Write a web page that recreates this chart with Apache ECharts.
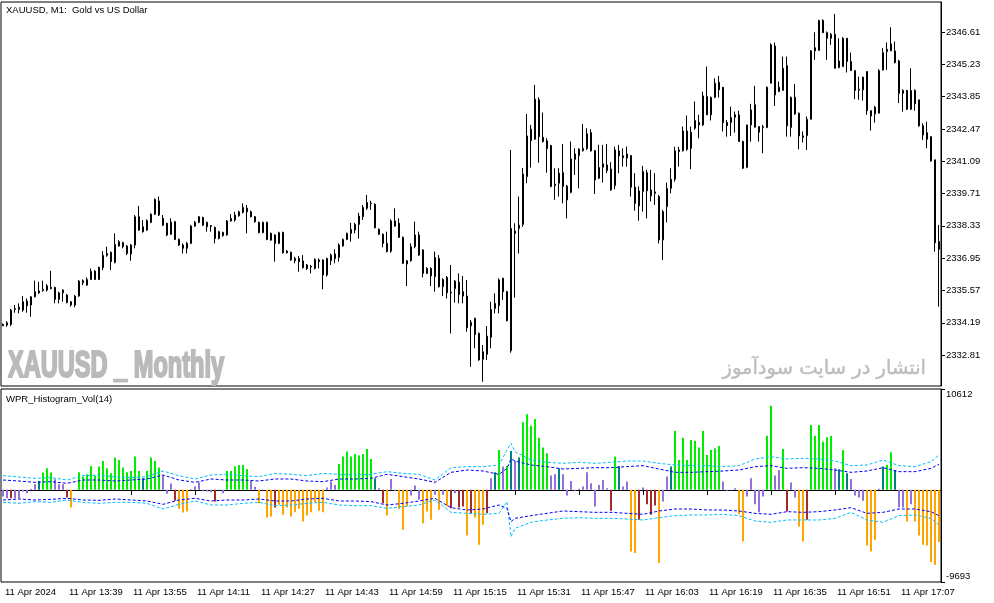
<!DOCTYPE html>
<html><head><meta charset="utf-8">
<script src="https://cdn.jsdelivr.net/npm/echarts@6/dist/echarts.min.js"></script>
<style>html,body{margin:0;padding:0;background:#fff}#c{width:994px;height:603px}</style>
</head><body><div id="c"></div>
<script>
const startMinute = 13 * 60 + 23; // 11 Apr 2024 13:23, M1 bars
const candles = [ // [open, close, low, high]
[2334.12,2334.06,2334.05,2334.16],[2334.09,2334.19,2334.02,2334.26],[2334.12,2334.73,2334.05,2334.78],[2334.76,2334.80,2334.62,2334.95],[2334.85,2334.76,2334.59,2335.02],
[2334.73,2335.09,2334.66,2335.33],[2335.12,2334.92,2334.62,2335.23],[2334.95,2335.30,2334.45,2335.33],[2335.30,2335.52,2335.27,2335.99],[2335.55,2335.47,2335.42,2335.94],
[2335.56,2335.62,2335.52,2335.99],[2335.59,2335.77,2335.52,2335.84],[2335.70,2335.65,2335.62,2336.41],[2335.70,2335.19,2335.02,2335.73],[2335.19,2335.47,2335.02,2335.52],
[2335.47,2335.59,2335.09,2335.62],[2335.37,2335.05,2335.02,2335.42],[2335.09,2334.95,2334.88,2335.12],[2334.95,2335.33,2334.85,2335.37],[2335.33,2335.97,2335.30,2336.02],
[2335.90,2335.99,2335.80,2336.04],[2335.80,2336.04,2335.77,2336.13],[2336.04,2336.39,2336.02,2336.51],[2336.40,2336.04,2336.02,2336.44],[2336.56,2336.04,2336.02,2336.58],
[2336.54,2337.07,2336.44,2337.25],[2337.07,2337.15,2337.01,2337.44],[2337.20,2336.80,2336.44,2337.23],[2336.76,2337.54,2336.73,2338.01],[2337.65,2337.47,2337.44,2337.72],
[2337.61,2337.44,2337.37,2337.65],[2337.15,2337.47,2337.08,2337.51],[2337.51,2337.13,2336.84,2337.55],[2337.51,2338.72,2337.37,2338.79],[2338.72,2338.15,2338.12,2339.18],
[2338.29,2338.08,2338.04,2338.58],[2338.15,2338.55,2338.12,2338.61],[2338.48,2338.83,2338.44,2338.86],[2338.83,2339.46,2338.79,2339.50],[2339.39,2338.79,2338.75,2339.58],
[2338.65,2338.36,2338.32,2338.79],[2338.44,2337.94,2337.89,2338.46],[2337.97,2338.49,2337.94,2338.65],[2338.51,2337.75,2337.72,2338.54],[2337.75,2337.51,2337.47,2337.79],
[2337.51,2337.37,2337.15,2337.58],[2337.37,2337.58,2337.15,2337.65],[2337.58,2338.32,2337.55,2338.36],[2338.32,2338.48,2338.29,2338.54],[2338.48,2338.72,2338.44,2338.75],
[2338.69,2338.36,2338.32,2338.72],[2338.48,2338.29,2338.08,2338.51],[2338.34,2338.31,2338.08,2338.36],[2338.27,2337.79,2337.58,2338.29],[2337.79,2338.08,2337.75,2338.12],
[2337.91,2338.05,2337.87,2338.08],[2337.94,2338.54,2337.91,2338.58],[2338.54,2338.65,2338.51,2338.83],[2338.58,2338.79,2338.51,2338.93],[2338.76,2338.93,2338.72,2338.98],
[2338.91,2339.12,2338.86,2339.29],[2339.08,2338.93,2338.01,2339.22],[2338.93,2338.72,2338.69,2338.98],[2338.72,2338.51,2338.46,2338.75],[2338.48,2338.04,2338.01,2338.51],
[2338.04,2338.48,2338.01,2338.51],[2338.48,2337.75,2337.72,2338.51],[2338.01,2337.72,2337.70,2338.04],[2337.94,2337.58,2336.80,2337.97],[2337.58,2338.04,2337.55,2338.08],
[2338.05,2337.18,2337.15,2338.08],[2337.25,2337.18,2337.15,2337.30],[2337.20,2336.87,2336.84,2337.23],[2336.94,2336.84,2336.73,2337.01],[2336.94,2336.80,2336.37,2337.04],
[2336.83,2336.54,2336.51,2337.08],[2336.66,2336.51,2336.44,2336.70],[2336.60,2336.57,2336.30,2336.66],[2336.51,2336.90,2336.47,2336.94],[2336.87,2336.80,2336.51,2336.94],
[2336.87,2336.23,2335.62,2336.90],[2336.23,2336.94,2336.16,2336.97],[2336.84,2337.08,2336.66,2337.15],[2337.13,2336.93,2336.73,2337.33],[2336.98,2337.51,2336.80,2337.58],
[2337.47,2337.75,2337.44,2337.79],[2337.75,2338.01,2337.72,2338.04],[2338.01,2338.18,2337.65,2338.46],[2338.15,2338.39,2338.01,2338.46],[2338.39,2338.75,2337.79,2338.89],
[2338.72,2339.12,2338.58,2339.22],[2339.08,2339.33,2339.01,2339.65],[2339.30,2339.28,2339.01,2339.40],[2339.25,2338.25,2338.22,2339.29],[2338.18,2337.97,2337.94,2338.22],
[2337.97,2337.58,2337.41,2338.01],[2337.58,2337.23,2337.20,2338.08],[2337.25,2338.54,2337.18,2338.61],[2338.54,2338.32,2338.29,2339.08],[2338.44,2337.84,2337.81,2338.65],
[2337.84,2336.73,2336.70,2337.87],[2336.70,2336.84,2335.76,2336.87],[2336.84,2337.44,2336.80,2337.58],[2337.44,2337.94,2337.37,2338.51],[2337.94,2337.08,2337.05,2338.08],
[2337.30,2336.30,2336.13,2337.33],[2336.30,2336.51,2336.27,2336.56],[2336.51,2336.19,2335.76,2336.56],[2336.16,2336.98,2335.52,2337.23],[2336.94,2335.73,2335.70,2337.08],
[2335.73,2336.04,2335.33,2336.09],[2336.13,2335.47,2335.23,2336.19],[2335.49,2335.46,2333.74,2336.66],[2335.65,2335.97,2335.05,2336.02],[2335.92,2335.40,2335.02,2336.30],
[2335.52,2335.33,2335.02,2336.19],[2335.33,2333.98,2333.81,2336.02],[2334.06,2334.21,2332.31,2334.31],[2334.38,2333.69,2333.10,2334.41],[2333.74,2332.60,2332.57,2333.77],
[2332.63,2332.95,2331.67,2333.24],[2332.84,2333.62,2332.60,2334.05],[2333.57,2334.76,2333.10,2335.09],[2334.80,2335.02,2334.59,2335.45],[2334.92,2336.02,2334.59,2336.09],
[2336.09,2335.52,2335.16,2336.11],[2335.52,2334.28,2334.25,2335.55],[2333.00,2338.22,2332.91,2341.57],[2338.11,2338.01,2335.26,2338.44],[2338.22,2338.36,2337.15,2339.58],
[2338.39,2340.54,2338.29,2340.80],[2340.43,2342.17,2340.15,2343.11],[2342.46,2341.97,2340.82,2342.64],[2342.03,2343.74,2342.00,2344.35],[2343.71,2342.14,2341.03,2343.82],
[2342.11,2341.93,2341.89,2343.17],[2341.96,2341.63,2340.60,2342.07],[2341.76,2340.01,2339.98,2341.79],[2340.11,2340.05,2339.44,2340.79],[2340.15,2340.58,2339.58,2340.79],
[2340.60,2340.01,2339.29,2341.83],[2340.03,2339.44,2338.65,2340.08],[2339.76,2341.19,2339.72,2341.93],[2341.40,2341.17,2340.50,2341.64],[2341.33,2341.61,2339.93,2341.64],
[2341.54,2341.64,2341.50,2342.68],[2341.63,2342.26,2341.57,2342.50],[2342.31,2341.53,2341.50,2342.46],[2341.54,2340.29,2339.69,2341.57],[2340.36,2340.82,2340.33,2341.79],
[2340.83,2340.98,2340.18,2341.79],[2340.93,2340.69,2340.58,2341.83],[2340.76,2339.86,2339.83,2341.05],[2340.05,2341.57,2339.89,2341.71],[2341.53,2341.32,2340.58,2341.79],
[2341.32,2341.24,2340.86,2341.64],[2341.22,2341.40,2340.86,2341.71],[2341.33,2339.98,2339.58,2341.36],[2339.98,2339.29,2338.98,2340.58],[2339.18,2339.82,2338.55,2340.01],
[2339.79,2340.65,2338.94,2340.89],[2340.60,2339.83,2338.65,2340.72],[2339.86,2339.61,2339.37,2340.72],[2339.78,2339.72,2339.22,2340.58],[2339.58,2337.73,2337.58,2339.65],
[2337.73,2338.94,2336.87,2339.01],[2339.15,2339.93,2338.48,2340.18],[2339.93,2340.32,2339.72,2340.79],[2340.32,2341.53,2340.22,2341.71],[2341.50,2341.57,2340.86,2341.71],
[2341.54,2342.38,2341.50,2342.57],[2342.38,2341.60,2341.54,2343.04],[2341.64,2342.33,2340.75,2342.57],[2342.50,2342.83,2342.43,2343.64],[2342.75,2342.64,2342.07,2343.07],
[2342.64,2343.88,2342.60,2344.06],[2343.85,2343.07,2343.07,2345.13],[2343.07,2343.82,2342.83,2343.85],[2343.82,2344.42,2343.78,2344.63],[2344.46,2344.14,2343.81,2344.73],
[2344.25,2342.74,2342.36,2344.25],[2342.74,2342.61,2342.14,2342.85],[2342.74,2342.95,2342.17,2343.42],[2343.07,2342.97,2342.31,2343.21],[2343.07,2341.93,2341.93,2343.25],
[2341.93,2340.79,2340.76,2341.97],[2340.83,2342.64,2340.79,2342.64],[2342.64,2343.28,2341.93,2343.54],[2343.50,2342.54,2342.54,2344.31],[2342.57,2342.33,2341.93,2342.57],
[2342.53,2342.57,2341.43,2342.64],[2342.53,2344.25,2342.50,2344.28],[2344.42,2346.06,2344.42,2346.13],[2346.01,2343.92,2343.45,2346.16],[2344.06,2344.25,2344.06,2344.49],
[2344.11,2345.06,2344.11,2345.56],[2345.17,2342.60,2342.14,2345.56],[2342.53,2343.82,2342.14,2343.85],[2343.82,2343.11,2343.07,2344.39],[2343.14,2342.17,2341.60,2343.17],
[2342.17,2342.11,2341.89,2342.36],[2342.18,2342.88,2341.57,2343.00],[2342.88,2345.80,2342.88,2345.84],[2345.80,2345.94,2345.42,2346.60],[2345.82,2347.10,2345.82,2347.13],
[2347.10,2346.58,2346.58,2347.15],[2346.58,2346.34,2345.42,2346.63],[2346.34,2346.51,2346.06,2346.56],[2346.51,2345.06,2345.06,2347.38],[2345.09,2345.37,2345.06,2346.34],
[2345.13,2346.34,2345.13,2346.39],[2346.34,2345.35,2344.88,2346.34],[2345.35,2344.96,2344.96,2345.73],[2344.96,2344.11,2343.74,2344.96],[2344.12,2344.16,2343.71,2344.70],
[2344.14,2344.68,2343.68,2344.70],[2344.92,2343.25,2343.07,2344.92],[2343.25,2343.02,2342.40,2343.25],[2343.11,2343.40,2342.74,2343.45],[2343.14,2344.96,2343.14,2345.02],
[2344.99,2345.73,2344.96,2345.92],[2345.77,2345.87,2344.99,2346.16],[2345.80,2346.10,2345.80,2346.81],[2345.80,2345.30,2345.27,2346.20],[2345.37,2343.99,2343.57,2345.42],
[2344.11,2343.99,2343.21,2344.16],[2344.11,2343.31,2343.28,2344.14],[2343.31,2344.11,2343.28,2345.06],[2344.11,2343.54,2343.25,2344.16],[2343.71,2342.60,2342.57,2343.71],
[2342.61,2342.21,2342.00,2342.71],[2342.31,2342.03,2341.64,2342.78],[2342.14,2341.10,2341.07,2342.14],[2341.15,2337.61,2337.23,2341.15],[2337.66,2337.33,2334.88,2338.37]
];
const wprValues = [
-700,-875,-875,-875,-875,-175,-350,105,595,945,
1820,2275,1820,1120,595,595,-805,-1855,-35,1855,
1400,1645,2520,1505,2450,3045,2275,1750,3395,3150,
2345,1855,1995,3500,1995,1225,1995,3395,3045,2345,
1505,-420,665,-1155,-1995,-2380,-2275,70,350,805,
-105,-175,-245,-1225,-35,-350,1995,1995,2450,2625,
2625,2205,945,315,-1400,-35,-2905,-2800,-1855,-1575,
-2625,-1855,-2800,-2345,-1995,-3325,-2695,-2345,-1295,-2205,
-2345,245,875,525,2730,3500,4025,3500,3780,3605,
3780,4305,3255,1225,175,-1400,-2695,1155,-105,-1995,
-4200,-1750,-595,455,-1050,-3500,-2275,-3150,-525,-2100,
-525,-1750,-1925,-350,-1855,-1750,-4795,-2450,-2905,-5775,
-3675,-2450,1225,1855,4200,2450,2520,4095,3045,3395,
7105,7945,6755,7455,5495,4445,3850,1505,1645,2275,
1645,-595,945,-105,105,350,1855,700,-1750,525,
1050,175,-2205,3500,2520,350,875,-6475,-6650,-3150,
245,-1505,-2625,-1645,-7700,-1225,1400,2450,6195,3150,
5495,3150,5250,5145,4445,6195,3675,4200,4375,4620,
875,-105,-35,175,-2555,-5425,-700,1225,-1505,-2345,
-700,5705,8855,1505,2100,4305,-2275,770,-805,-3850,
-5425,-3150,6825,5705,6825,5075,5530,5670,2275,2170,
4200,1750,1155,-595,-805,-1155,-5845,-6475,-5250,105,
2450,2625,3955,2100,-1855,-1855,-3325,-1505,-3325,-4795,
-5775,-5845,-7595,-7875,-5495
];
// G strong up, T up, P neutral, B down, O strong down
const wprStates =
"PPBPPPPPPT"+"GGGPPPBOPG"+"GGGGGGGGGG"+"GGGGGTGGGG"+"PPPBOOOPPP"+
"PPPBPPGGGG"+"GGPPOPOOBO"+"OOOOOOOOOO"+"OPPPGGGGGG"+"GGGTPBOPPO"+
"OOPPPOOOPO"+"POBPBBOBOO"+"OBPTGPGTPT"+"GGGGGGGPPT"+"PPPPPPPPPP"+
"PPBGTPPOOB"+"PBBBOPPTGG"+"GGGGGGGGGG"+"PPPPOOPPPP"+"PGGPPGBPPO"+
"OBGGGGGGPT"+"GTPPPPOOOP"+"TGGTPPOPOO"+"OOOOO";
const bandIdx = [0,4,8,12,16,20,24,28,32,36,40,44,48,52,56,60,64,68,72,76,80,84,88,92,96,100,104,108,112,116,120,124,126,127,128,132,136,140,144,148,152,156,160,164,168,172,176,180,184,188,192,196,200,204,208,212,216,220,224,228,232,234];
const upperOuter = [1494,1354,1213,1284,1038,1494,1564,1354,1284,1389,1985,1494,1143,1564,1634,1494,1389,1739,1634,1494,1739,1634,1564,1634,1915,1739,1634,1038,2336,2441,2441,2616,4194,4896,4019,3142,2897,2792,2897,2792,2897,3037,3037,2792,2616,2546,2546,2441,2546,3247,3493,3247,3318,3247,3037,2546,2616,3142,2546,2441,2967,3668];
const upperInner = [1038,933,793,863,687,1038,1038,933,1038,1143,1564,1038,793,1143,1038,1038,933,1143,1143,933,863,1143,1143,1213,1634,1389,1143,793,1845,2090,1985,1634,2266,3247,3037,2616,2441,2195,2266,2336,2336,2441,2546,2195,1845,1845,1915,1985,2090,2441,2546,2266,2336,2266,2090,1845,1985,2336,1915,1915,2266,2686];
const lowerInner = [-1066,-961,-1066,-996,-891,-1066,-1101,-961,-1066,-1171,-1522,-1066,-891,-1171,-1066,-1066,-961,-1171,-1171,-961,-891,-1171,-1171,-1241,-1592,-1417,-1171,-891,-1873,-2118,-2013,-1592,-1943,-3346,-2995,-2714,-2469,-2223,-2294,-2364,-2364,-2469,-2574,-2223,-2013,-2013,-2118,-2118,-2223,-2469,-2574,-2294,-2364,-2294,-2118,-1873,-2469,-2364,-2013,-2013,-2294,-2714];
const lowerOuter = [-1312,-1417,-1241,-1312,-1066,-1312,-1417,-1312,-1312,-1417,-2013,-1522,-1171,-1592,-1592,-1417,-1312,-1662,-1592,-1417,-1312,-1592,-1662,-1662,-1943,-1768,-1592,-1066,-2364,-2469,-2574,-2469,-1241,-4924,-4047,-3416,-3170,-2995,-2925,-2995,-2995,-3065,-3170,-2925,-2714,-2644,-2644,-2574,-2714,-3276,-3416,-3170,-3170,-3170,-2995,-2364,-3170,-3416,-2714,-2644,-2995,-3696];
const priceTicks = [2332.81,2334.19,2335.57,2336.95,2338.33,2339.71,2341.09,2342.47,2343.85,2345.23,2346.61];
const wprTicks = [-9693, 10612];
const priceRange = [2331.49, 2347.89];

const times = candles.map((_, i) => {
  const m = startMinute + i;
  return String(Math.floor(m / 60)).padStart(2, '0') + ':' + String(m % 60).padStart(2, '0');
});
const stateColors = { G: '#00ee00', T: '#008080', P: '#9370db', B: '#a52a2a', O: '#ffa500' };
const FONT = '"Liberation Sans", Arial, sans-serif';

const chart = echarts.init(document.getElementById('c'), null, { renderer: 'canvas' });
const lineSeries = (vals, color) => ({
  type: 'line', xAxisIndex: 1, yAxisIndex: 1, symbol: 'none', silent: true,
  data: bandIdx.map((b, k) => [b, vals[k]]),
  lineStyle: { color, width: 1, type: [3, 2] }, z: 3
});

chart.setOption({
  animation: false,
  backgroundColor: '#fff',
  grid: [
    { left: 1, top: 2, width: 940, height: 384, show: true, borderColor: '#000', borderWidth: 1, backgroundColor: 'transparent' },
    { left: 1, top: 389, width: 940, height: 193, show: true, borderColor: '#000', borderWidth: 1, backgroundColor: 'transparent' }
  ],
  xAxis: [
    { type: 'category', gridIndex: 0, data: times, boundaryGap: true,
      axisLine: { show: false }, axisTick: { show: false }, axisLabel: { show: false }, splitLine: { show: false }, axisPointer: { show: false } },
    { type: 'category', gridIndex: 1, data: times, boundaryGap: true,
      axisLine: { show: true, lineStyle: { color: '#000', width: 1 } },
      axisTick: { show: true, interval: 15, alignWithLabel: true, length: 5, lineStyle: { color: '#000' } },
      axisLabel: { interval: 15, align: 'left', margin: 5, color: '#000', fontSize: 9.5, fontFamily: FONT,
        padding: [0, 0, 0, 2],
        formatter: (v, i) => i === 0 ? '11 Apr 2024' : '11 Apr ' + v },
      splitLine: { show: false } }
  ],
  yAxis: [
    { type: 'value', gridIndex: 0, position: 'right', min: priceRange[0], max: priceRange[1], scale: true,
      axisLine: { show: true, lineStyle: { color: '#000' } },
      axisTick: { show: true, length: 4, customValues: priceTicks, lineStyle: { color: '#000' } },
      axisLabel: { customValues: priceTicks, margin: 5, color: '#000', fontSize: 9.5, fontFamily: FONT,
        formatter: v => v.toFixed(2) },
      splitLine: { show: false } },
    { type: 'value', gridIndex: 1, position: 'right', min: wprTicks[0], max: wprTicks[1],
      axisLine: { show: true, lineStyle: { color: '#000' } },
      axisTick: { show: true, length: 4, customValues: wprTicks, lineStyle: { color: '#000' } },
      axisLabel: { customValues: wprTicks, margin: 5, color: '#000', fontSize: 9.5, fontFamily: FONT,
        formatter: v => v > 0 ? '{t|' + v + '}' : '{b|' + v + '}',
        rich: { t: { fontSize: 9.5, fontFamily: FONT, color: '#000', padding: [10, 0, 0, 0] },
                b: { fontSize: 9.5, fontFamily: FONT, color: '#000', padding: [0, 0, 12, 0] } } },
      splitLine: { show: false } }
  ],
  series: [
    { type: 'candlestick', xAxisIndex: 0, yAxisIndex: 0, data: candles, barWidth: 2, z: 3,
      itemStyle: { color: '#fff', color0: '#000', borderColor: '#000', borderColor0: '#000', borderWidth: 1 } },
    { type: 'bar', xAxisIndex: 1, yAxisIndex: 1, barWidth: 2, z: 2,
      data: wprValues.map((v, i) => ({ value: v, itemStyle: { color: stateColors[wprStates[i]] } })) },
    lineSeries(upperOuter, '#00bfff'),
    lineSeries(lowerOuter, '#00bfff'),
    lineSeries(upperInner, '#0000ff'),
    lineSeries(lowerInner, '#0000ff')
  ],
  graphic: [
    { type: 'text', x: 6, y: 10, silent: true,
      style: { text: 'XAUUSD, M1:  Gold vs US Dollar', fontSize: 9.5, fontFamily: FONT, fill: '#000', textVerticalAlign: 'middle', verticalAlign: 'middle' } },
    { type: 'text', x: 6, y: 399, silent: true,
      style: { text: 'WPR_Histogram_Vol(14)', fontSize: 9.5, fontFamily: FONT, fill: '#000', textVerticalAlign: 'middle', verticalAlign: 'middle' } },
    { type: 'text', x: 8, y: 367, scaleX: 0.655, silent: true,
      style: { text: 'XAUUSD _ Monthly', fontSize: 36, fontWeight: 'bold', fontFamily: FONT, fill: '#bababa',
        stroke: '#bababa', lineWidth: 2.2, textVerticalAlign: 'middle', verticalAlign: 'middle' } },
    { type: 'text', x: 926, y: 369, silent: true,
      style: { text: 'انتشار در سایت سودآموز', fontSize: 19.5, fontFamily: '"DejaVu Sans", sans-serif', fill: '#bdbdbd',
        stroke: '#bdbdbd', lineWidth: 0.4,
        textAlign: 'right', align: 'right', textVerticalAlign: 'middle', verticalAlign: 'middle' } }
  ]
});
</script>
</body></html>
